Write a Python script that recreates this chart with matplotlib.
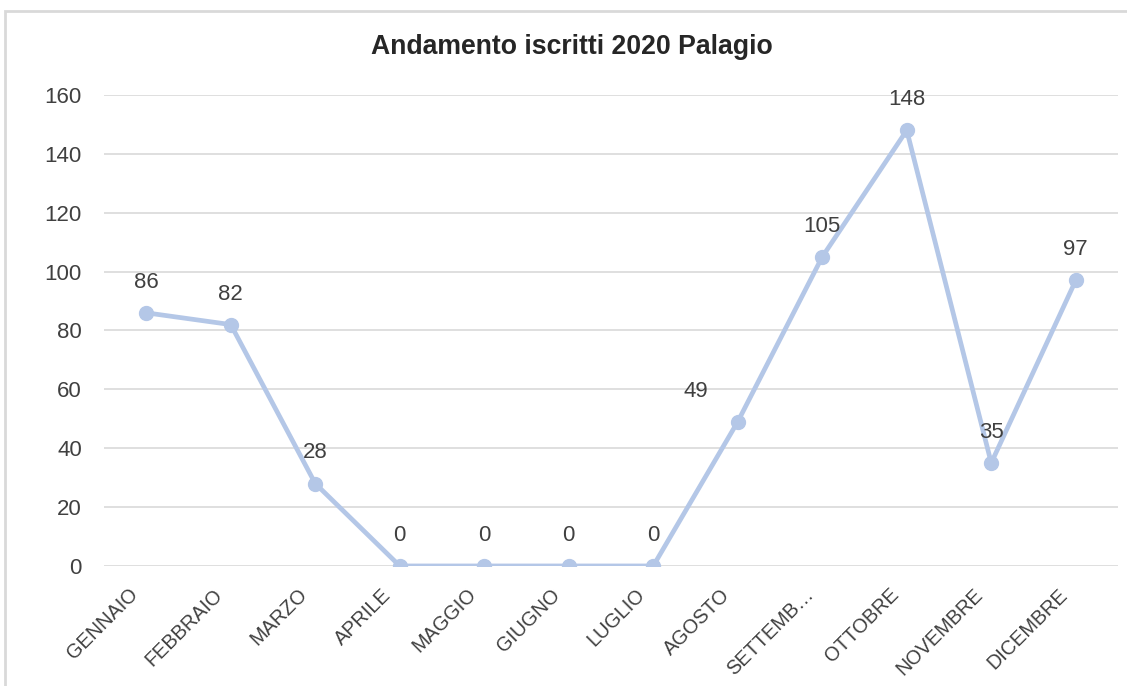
import matplotlib
matplotlib.use("Agg")
import matplotlib.pyplot as plt
import matplotlib.transforms as mtransforms
from matplotlib.patches import Rectangle

plt.rcParams['font.family'] = ['Liberation Sans', 'DejaVu Sans']

mesi = ['GENNAIO', 'FEBBRAIO', 'MARZO', 'APRILE', 'MAGGIO', 'GIUGNO',
        'LUGLIO', 'AGOSTO', 'SETTEMB…', 'OTTOBRE', 'NOVEMBRE', 'DICEMBRE']
iscritti = [86, 82, 28, 0, 0, 0, 0, 49, 105, 148, 35, 97]
y_ticks = [0, 20, 40, 60, 80, 100, 120, 140, 160]

colore = '#B4C7E7'
testo = '#404040'

fig = plt.figure(figsize=(11.27, 6.86), dpi=100)
ax = fig.add_axes([0.0923, 0.175, 0.8997, 0.6865])

# cornice grigia come in Excel
fig.patches.append(Rectangle((5 / 1127, -0.01), 1.1, 1 - 11 / 686 + 0.01,
                             transform=fig.transFigure, fill=False,
                             edgecolor='#D9D9D9', linewidth=2))

x = list(range(len(mesi)))
ax.plot(x, iscritti, color=colore, linewidth=3.4, marker='o',
        markersize=10, solid_capstyle='round', zorder=3)

for i, v in enumerate(iscritti):
    dx = -30 if i == 7 else 0  # etichetta di agosto spostata a sinistra
    ax.annotate(str(v), (i, v), xytext=(dx, 22), textcoords='offset points',
                ha='center', va='center', fontsize=16, color=testo)

ax.set_xlim(-0.5, len(mesi) - 0.5)
ax.set_ylim(0, 160)
ax.set_yticks(y_ticks)
ax.set_xticks(x)
ax.set_xticklabels(mesi, rotation=45, ha='right', rotation_mode='anchor',
                   fontsize=14.3, color=testo)
ax.tick_params(axis='y', labelsize=16, labelcolor=testo, length=0, pad=16)
ax.tick_params(axis='x', length=0, pad=8)

sposta = mtransforms.ScaledTranslation(-18 / 100, -8 / 100, fig.dpi_scale_trans)
for lab in ax.get_xticklabels():
    lab.set_transform(lab.get_transform() + sposta)

ax.grid(axis='y', color='#D9D9D9', linewidth=1.2)
ax.set_axisbelow(True)
for s in ax.spines.values():
    s.set_visible(False)

fig.text(572 / 1127, 1 - 47 / 686, 'Andamento iscritti 2020 Palagio', ha='center',
         va='center', fontsize=19.2, fontweight='bold', color='#262626')

fig.savefig('out.png', dpi=100)
